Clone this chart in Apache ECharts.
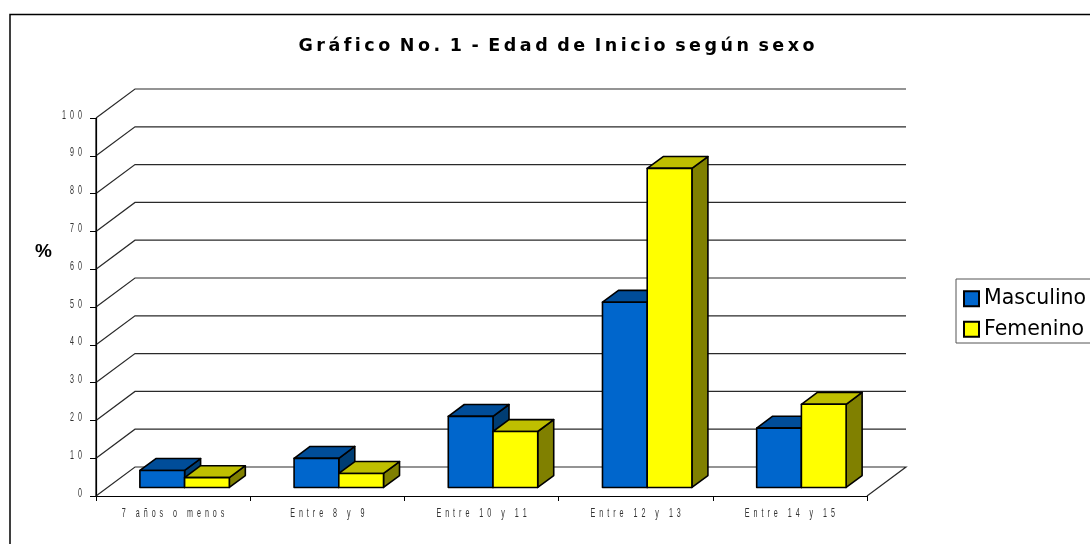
<!DOCTYPE html>
<html>
<head>
<meta charset="utf-8">
<title>Edad de Inicio según sexo</title>
<script src="https://cdn.jsdelivr.net/npm/echarts@6/dist/echarts.min.js"></script>
<style>
  html, body { margin: 0; background: #fff; }
  #chart { width: 1090px; height: 544px; }
</style>
</head>
<body>
<div id="chart"></div>
<script>
const categories = ["7 años o menos", "Entre 8 y 9", "Entre 10 y 11", "Entre 12 y 13", "Entre 14 y 15"];
const masculino = [4.5, 7.7, 18.8, 49, 15.7];
const femenino = [2.6, 3.7, 14.8, 84.4, 22];
const yTicks = [0, 10, 20, 30, 40, 50, 60, 70, 80, 90, 100];
const chartTitle = "Gráfico No. 1 - Edad de Inicio según sexo";

// oblique projection of the chart depth
const wallDx = 39;
const wallDy = -29;
const barShift = 11.5;
const barDepth = 16;
const barSlope = wallDy / wallDx;
const sideShade = { "#0066cc": ["#004d99", "#003d73"], "#ffff00": ["#bfbf00", "#808000"] };

// the original has wide letter spacing and a condensed tick font
const thin = "\u2009";
const spaced = (s, gap) => s.split("").join(gap);
const spacedTitle = chartTitle.split(" ").map((w) => spaced(w, thin)).join(" " + thin);
const tickFont = { fontFamily: "Liberation Sans", fontSize: 13, fill: "#333" };

function barRenderer(seriesIndex, color) {
  return (params, api) => {
    const band = api.size([1, 0])[0];
    const w = band * 0.29;
    const base = api.coord([api.value(0), 0]);
    const top = api.coord([api.value(0), api.value(1)]);
    const sy = barShift * barSlope;
    const x0 = base[0] + barShift - w + seriesIndex * w;
    const x1 = x0 + w;
    const y0 = base[1] + sy;
    const y1 = top[1] + sy;
    const dx = barDepth;
    const dy = barDepth * barSlope;
    const [topColor, sideColor] = sideShade[color];
    const border = { stroke: "#000", lineWidth: 1.6, lineJoin: "round" };
    return {
      type: "group",
      children: [
        { type: "polygon", shape: { points: [[x1, y1], [x1 + dx, y1 + dy], [x1 + dx, y0 + dy], [x1, y0]] }, style: { fill: sideColor, ...border } },
        { type: "polygon", shape: { points: [[x0, y1], [x0 + dx, y1 + dy], [x1 + dx, y1 + dy], [x1, y1]] }, style: { fill: topColor, ...border } },
        { type: "rect", shape: { x: x0, y: y1, width: w, height: y0 - y1 }, style: { fill: color, ...border } }
      ]
    };
  };
}

function wallRenderer(params, api) {
  const cs = params.coordSys;
  const tick = api.value(0);
  const y = api.coord([0, tick])[1];
  const x0 = cs.x;
  const x1 = cs.x + cs.width;
  const points = [[x0, y], [x0 + wallDx, y + wallDy], [x1 + wallDx, y + wallDy]];
  if (tick === 0) {
    points.push([x1, y]);
  }
  const lineStyle = { fill: null, stroke: "#2a2a2a", lineWidth: 1.2 };
  const children = [{ type: "polyline", shape: { points }, style: lineStyle }];
  if (tick === yTicks[yTicks.length - 1]) {
    // left edge of the side wall
    children.push({ type: "line", shape: { x1: x0, y1: y, x2: x0, y2: api.coord([0, 0])[1] }, style: { stroke: "#000", lineWidth: 1.2 } });
  }
  return { type: "group", children };
}

function yLabelRenderer(params, api) {
  const tick = api.value(0);
  return {
    type: "text",
    x: params.coordSys.x - 14,
    y: api.coord([0, tick])[1] - 3,
    scaleX: 0.55,
    style: { ...tickFont, text: spaced(String(tick), "  "), textAlign: "right", textVerticalAlign: "middle" }
  };
}

function xLabelRenderer(params, api) {
  const idx = api.value(0);
  const pos = api.coord([idx, 0]);
  return {
    type: "text",
    x: pos[0],
    y: pos[1] + 17,
    scaleX: 0.55,
    style: { ...tickFont, text: spaced(categories[idx], "  "), textAlign: "center", textVerticalAlign: "middle" }
  };
}

const chart = echarts.init(document.getElementById("chart"), null, { renderer: "canvas" });
chart.setOption({
  animation: false,
  backgroundColor: "#fff",
  title: {
    text: spacedTitle,
    left: 551.5,
    top: 32.5,
    textAlign: "center",
    textStyle: { fontFamily: "DejaVu Sans", fontSize: 17.5, fontWeight: "bold", color: "#000" }
  },
  legend: {
    orient: "vertical",
    left: 956,
    top: 279,
    padding: [8.7, 6, 2.8, 7],
    itemGap: 8.5,
    itemWidth: 15,
    itemHeight: 15,
    borderColor: "#555",
    borderWidth: 1,
    icon: "rect",
    data: ["Masculino", "Femenino"],
    textStyle: { fontFamily: "DejaVu Sans", fontSize: 20.5, lineHeight: 22, color: "#000" }
  },
  grid: { left: 96, right: 223, top: 118, bottom: 48 },
  xAxis: {
    type: "category",
    data: categories,
    axisLine: { lineStyle: { color: "#000", width: 1.2 } },
    axisTick: { show: true, alignWithLabel: false, length: 5, lineStyle: { color: "#000" } },
    axisLabel: { show: false }
  },
  yAxis: {
    type: "value",
    min: 0,
    max: 100,
    interval: 10,
    axisLine: { show: true, lineStyle: { color: "#000", width: 1.2 } },
    axisTick: { show: true, length: 6, lineStyle: { color: "#000" } },
    splitLine: { show: false },
    axisLabel: { show: false }
  },
  graphic: [
    {
      type: "rect",
      z: -10,
      silent: true,
      shape: { x: 10, y: 14.5, width: 1200, height: 700 },
      style: { fill: "#fff", stroke: "#000", lineWidth: 1.5 }
    },
    {
      type: "text",
      x: 43.5,
      y: 252,
      silent: true,
      style: { text: "%", fontFamily: "Liberation Sans", fontSize: 19, fontWeight: "bold", fill: "#000", textAlign: "center", textVerticalAlign: "middle" }
    }
  ],
  series: [
    {
      type: "custom",
      name: "paredes",
      clip: false,
      z: 1,
      silent: true,
      renderItem: wallRenderer,
      encode: { y: 0 },
      data: yTicks.map((t) => [t])
    },
    {
      type: "custom",
      name: "Masculino",
      clip: false,
      z: 2,
      itemStyle: { color: "#0066cc", borderColor: "#000", borderWidth: 1.5 },
      renderItem: barRenderer(0, "#0066cc"),
      encode: { x: 0, y: 1 },
      data: masculino.map((v, i) => [i, v])
    },
    {
      type: "custom",
      name: "Femenino",
      clip: false,
      z: 3,
      itemStyle: { color: "#ffff00", borderColor: "#000", borderWidth: 1.5 },
      renderItem: barRenderer(1, "#ffff00"),
      encode: { x: 0, y: 1 },
      data: femenino.map((v, i) => [i, v])
    },
    {
      type: "custom",
      name: "etiquetasY",
      clip: false,
      silent: true,
      renderItem: yLabelRenderer,
      encode: { y: 0 },
      data: yTicks.map((t) => [t])
    },
    {
      type: "custom",
      name: "etiquetasX",
      clip: false,
      silent: true,
      renderItem: xLabelRenderer,
      encode: { x: 0 },
      data: categories.map((c, i) => [i])
    }
  ]
});
window.addEventListener("resize", () => chart.resize());
</script>
</body>
</html>
